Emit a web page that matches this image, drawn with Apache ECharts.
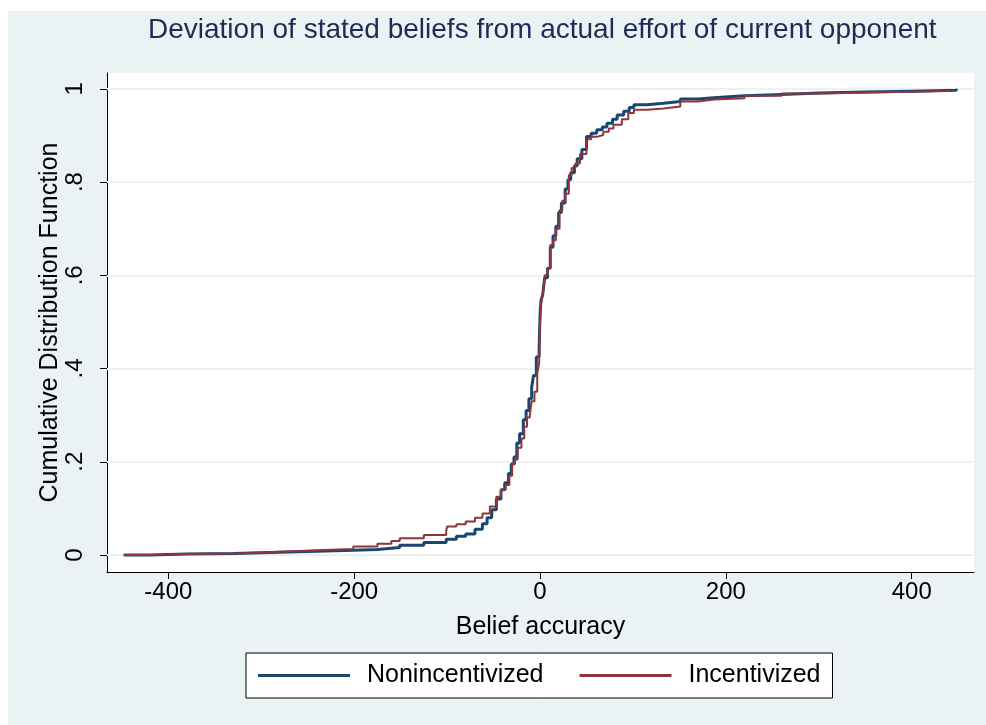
<!DOCTYPE html>
<html>
<head>
<meta charset="utf-8">
<script src="https://cdn.jsdelivr.net/npm/echarts@6/dist/echarts.min.js"></script>
<style>
  html, body { margin: 0; padding: 0; background: #fff; }
  #chart { width: 986px; height: 725px; }
</style>
</head>
<body>
<div id="chart"></div>
<script>
var nonX = [-448, -420, -380, -330, -280, -240, -201, -175, -151, -125, -101, -90, -80, -70, -62, -57, -52, -47, -42, -38, -34, -31, -28, -25, -22, -18, -15, -12, -9, -7, -4, -1, 0, 1, 3, 5, 8, 11, 14, 17, 20, 23, 27, 30, 33, 37, 40, 45, 50, 55, 61, 67, 72, 78, 83, 90, 96, 101, 115, 133, 151, 170, 187, 220, 260, 300, 350, 400, 448];
var nonY = [0, 0.002, 0.003, 0.006, 0.008, 0.010, 0.012, 0.016, 0.021, 0.027, 0.034, 0.040, 0.045, 0.055, 0.067, 0.080, 0.097, 0.120, 0.140, 0.155, 0.175, 0.195, 0.210, 0.240, 0.260, 0.290, 0.310, 0.335, 0.360, 0.385, 0.425, 0.440, 0.515, 0.545, 0.560, 0.595, 0.615, 0.660, 0.685, 0.705, 0.735, 0.755, 0.785, 0.805, 0.820, 0.835, 0.850, 0.870, 0.898, 0.905, 0.912, 0.918, 0.926, 0.935, 0.944, 0.952, 0.960, 0.966, 0.969, 0.973, 0.978, 0.981, 0.985, 0.988, 0.991, 0.993, 0.995, 0.997, 1];

var incX = [-448, -420, -380, -330, -280, -240, -201, -175, -160, -151, -125, -101, -100, -90, -80, -70, -62, -54, -47, -42, -37, -33, -30, -27, -24, -20, -17, -14, -11, -9, -6, -3, -1, 0, 1, 3, 5, 8, 11, 14, 17, 21, 24, 27, 31, 34, 38, 43, 50, 55, 61, 68, 74, 79, 88, 95, 101, 115, 133, 151, 170, 187, 220, 260, 300, 350, 400, 440];
var incY = [0, 0.002, 0.003, 0.007, 0.010, 0.013, 0.018, 0.024, 0.030, 0.036, 0.043, 0.051, 0.061, 0.066, 0.072, 0.080, 0.089, 0.104, 0.125, 0.140, 0.150, 0.170, 0.195, 0.205, 0.230, 0.250, 0.275, 0.295, 0.300, 0.330, 0.350, 0.390, 0.410, 0.500, 0.540, 0.560, 0.600, 0.615, 0.665, 0.675, 0.700, 0.740, 0.760, 0.775, 0.815, 0.830, 0.840, 0.860, 0.892, 0.897, 0.901, 0.908, 0.915, 0.923, 0.935, 0.948, 0.955, 0.958, 0.962, 0.973, 0.977, 0.980, 0.985, 0.990, 0.992, 0.994, 0.996, 1];

var xTicks = [-400, -200, 0, 200, 400];
var yTicks = [0, 0.2, 0.4, 0.6, 0.8, 1];
var seriesNames = ['Nonincentivized', 'Incentivized'];

function pairs(xs, ys) {
  return xs.map(function (x, i) { return [x, ys[i]]; });
}

var chart = echarts.init(document.getElementById('chart'));
var font = 'Liberation Sans, Arial, sans-serif';

var option = {
  backgroundColor: '#fff',
  animation: false,
  graphic: [{
    type: 'rect', z: -10, silent: true,
    shape: { x: 8, y: 11, width: 978, height: 714 },
    style: { fill: '#eaf2f3' }
  }, {
    type: 'rect', z: -9, silent: true,
    shape: { x: 107, y: 73, width: 867, height: 499 },
    style: { fill: '#fff' }
  }],
  title: {
    text: 'Deviation of stated beliefs from actual effort of current opponent',
    left: 143,
    top: 11,
    textStyle: { color: '#1e2b57', fontFamily: font, fontWeight: 'normal', fontSize: 28 }
  },
  grid: { left: 107, top: 73, right: 12, bottom: 153, containLabel: false },
  xAxis: {
    type: 'value',
    min: -466, max: 467,
    name: 'Belief accuracy',
    nameLocation: 'middle',
    nameGap: 43,
    nameMoveOverlap: false,
    nameTextStyle: { color: '#000', fontFamily: font, fontSize: 25 },
    axisLine: { onZero: false, lineStyle: { color: '#000', width: 1 } },
    axisTick: { customValues: xTicks, length: 7, lineStyle: { color: '#000' } },
    axisLabel: { customValues: xTicks, color: '#000', fontFamily: font, fontSize: 24, margin: 8 },
    splitLine: { show: false }
  },
  yAxis: {
    type: 'value',
    min: -0.0365, max: 1.034,
    name: 'Cumulative Distribution Function',
    nameLocation: 'middle',
    nameGap: 44,
    nameMoveOverlap: false,
    nameTextStyle: { color: '#000', fontFamily: font, fontSize: 25 },
    axisLine: { onZero: false, lineStyle: { color: '#000', width: 1 } },
    axisTick: { customValues: yTicks, length: 7, lineStyle: { color: '#000' } },
    axisLabel: {
      customValues: yTicks, rotate: 90, color: '#000', fontFamily: font, fontSize: 24, margin: 20,
      formatter: function (v) {
        if (v === 0 || v === 1) return String(v);
        return String(Number(v.toFixed(1))).replace(/^0/, '');
      }
    },
    splitLine: { show: false }
  },
  legend: {
    data: seriesNames,
    icon: 'rect',
    left: 246,
    top: 653,
    padding: [10, 12, 10, 12],
    itemGap: 36,
    itemWidth: 92,
    itemHeight: 3,
    borderColor: '#000',
    borderWidth: 1,
    backgroundColor: '#fff',
    textStyle: { color: '#000', fontFamily: font, fontSize: 25, padding: [0, 0, 0, 12] }
  },
  series: [{
    name: seriesNames[0],
    type: 'line',
    step: 'end',
    symbol: 'none',
    data: pairs(nonX, nonY),
    lineStyle: { color: '#1a476f', width: 3 },
    itemStyle: { color: '#1a476f' },
    markLine: {
      silent: true,
      symbol: 'none',
      label: { show: false },
      lineStyle: { color: '#eaf2f3', width: 2, type: 'solid' },
      data: yTicks.map(function (v) { return { yAxis: v }; }),
      z: 1
    },
    z: 3
  }, {
    name: seriesNames[1],
    type: 'line',
    step: 'end',
    symbol: 'none',
    data: pairs(incX, incY),
    lineStyle: { color: '#90353b', width: 2 },
    itemStyle: { color: '#90353b' },
    z: 4
  }]
};

chart.setOption(option);
</script>
</body>
</html>
